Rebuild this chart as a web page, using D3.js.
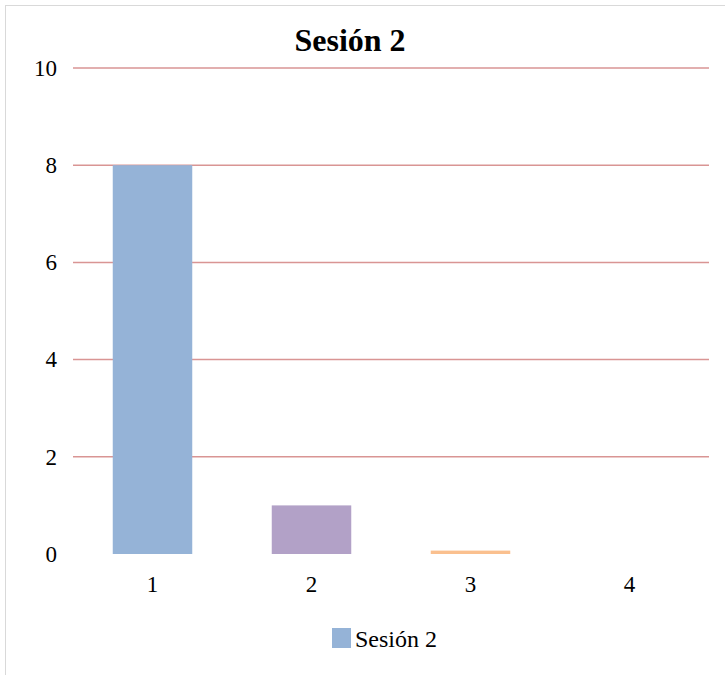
<!DOCTYPE html>
<html>
<head>
<meta charset="utf-8">
<script src="https://cdn.jsdelivr.net/npm/d3@7"></script>
<style>
  html, body { margin: 0; padding: 0; background: #fff; }
  svg { display: block; }
</style>
</head>
<body>
<svg id="chart" width="725" height="675"></svg>
<script>
// Session 2 results per category
const categories = ["1", "2", "3", "4"];
const values = [8, 1, 0.07, 0];
const barColors = ["#95b3d7", "#b2a1c7", "#fac08f", "#c3d69b"];
const yTicks = [0, 2, 4, 6, 8, 10];
const seriesName = "Sesión 2";

const svg = d3.select("#chart");
const W = 725, H = 675;
const plot = { left: 73, right: 709, top: 68, bottom: 554 };
const serif = "'Liberation Serif', 'DejaVu Serif', serif";

// chart frame
svg.append("rect")
  .attr("x", 5.5).attr("y", 5.5)
  .attr("width", W).attr("height", H)
  .attr("fill", "#fff").attr("stroke", "#d9d9d9").attr("stroke-width", 1);

const x = d3.scaleBand().domain(categories).range([plot.left, plot.right]).paddingInner(0.5).paddingOuter(0.25);
const y = d3.scaleLinear().domain([0, 10]).range([plot.bottom, plot.top]);

// gridlines
svg.append("g").selectAll("line").data(yTicks.filter(t => t > 0)).join("line")
  .attr("x1", plot.left).attr("x2", plot.right)
  .attr("y1", d => y(d)).attr("y2", d => y(d))
  .attr("stroke", "#d99594").attr("stroke-width", 1.5);

// y axis labels
const yAxis = svg.append("g").attr("transform", `translate(${plot.left},0)`)
  .call(d3.axisLeft(y).tickValues(yTicks).tickSize(0).tickPadding(16).tickFormat(d3.format("d")));
yAxis.select(".domain").remove();
yAxis.selectAll("text")
  .attr("font-family", serif).attr("font-size", 23).attr("fill", "#000");

// x axis labels
const xAxis = svg.append("g").attr("transform", `translate(0,${plot.bottom})`)
  .call(d3.axisBottom(x).tickSize(0).tickPadding(22));
xAxis.select(".domain").remove();
xAxis.selectAll("text")
  .attr("font-family", serif).attr("font-size", 23).attr("fill", "#000");

// bars
svg.append("g").selectAll("rect").data(categories).join("rect")
  .attr("x", d => x(d))
  .attr("width", x.bandwidth())
  .attr("y", (d, i) => y(values[i]))
  .attr("height", (d, i) => y(0) - y(values[i]))
  .attr("fill", (d, i) => barColors[i]);

// title
svg.append("text")
  .attr("x", 350).attr("y", 51)
  .attr("text-anchor", "middle")
  .attr("font-family", serif)
  .attr("font-weight", "bold").attr("font-size", 32)
  .text(seriesName);

// legend
const lg = svg.append("g").attr("transform", "translate(332,628)");
lg.append("rect").attr("width", 19).attr("height", 20).attr("fill", barColors[0]);
lg.append("text").attr("x", 23).attr("y", 19)
  .attr("font-family", serif).attr("font-size", 24)
  .text(seriesName);
</script>
</body>
</html>
